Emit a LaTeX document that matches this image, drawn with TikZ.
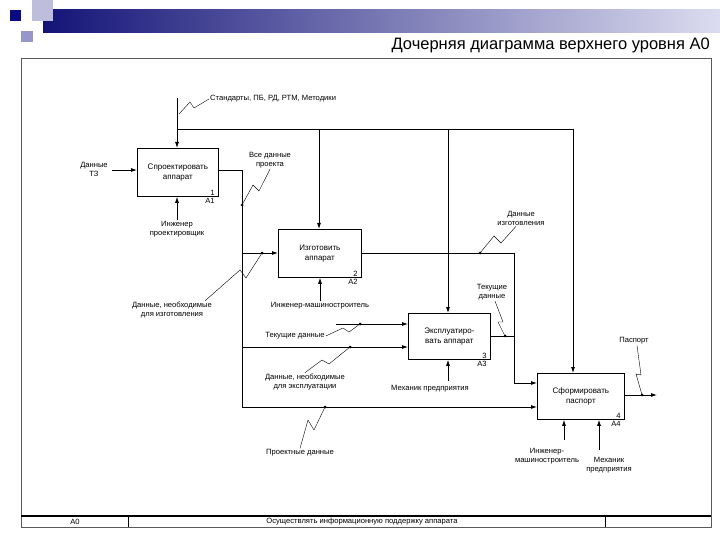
\documentclass[tikz,border=0pt]{standalone}
\usepackage{fontspec}
\setmainfont{Liberation Sans}
\usetikzlibrary{calc,arrows.meta}
\definecolor{hdark}{RGB}{20,20,120}
\definecolor{hlight}{RGB}{220,220,240}
\definecolor{sqa}{RGB}{190,190,220}
\definecolor{sqb}{RGB}{150,150,200}
\definecolor{sqc}{RGB}{10,10,130}
\begin{document}
\begin{tikzpicture}[x=1pt,y=-1pt,
  box/.style={draw,thick,anchor=north west,inner sep=0pt,align=center,font=\fontsize{8}{9.5}\selectfont},
  lbl/.style={font=\fontsize{7.6}{9}\selectfont,align=center,inner sep=1pt},
  ar/.style={-{Latex[length=6pt,width=4pt]},thick},
  ln/.style={thick},
  sq/.style={thin},
  dot/.style={circle,fill,inner sep=0pt,minimum size=3pt}]
\useasboundingbox (0,0) rectangle (720,540);
% header decoration
\shade[left color=hdark,right color=hlight] (43,10) rectangle (720,33);
\fill[sqa] (32,0) rectangle (53,21);
\fill[sqb] (21,31) rectangle (33,42);
\fill[sqc] (10,10) rectangle (21,21);
\node[anchor=east,font=\fontsize{16.5}{18}\selectfont,inner sep=0pt] (title) at (710,45) {Дочерняя диаграмма верхнего уровня А0};
% frame
\draw[gray!70!black] (21,58) rectangle (711,527);
\draw[very thick] (21,516) -- (711,516);
\draw (128,516) -- (128,527) (605,516) -- (605,527);
\node[lbl] (fa) at (75,521.5) {А0};
\node[lbl] (ft) at (362,521.5) {Осуществлять информационную поддержку аппарата};
% boxes
\node[box,minimum width=81pt,minimum height=48pt] (A1) at (137,148) {Спроектировать\\аппарат};
\node[box,minimum width=83pt,minimum height=48pt] (A2) at (278,229) {Изготовить\\аппарат};
\node[box,minimum width=82pt,minimum height=46pt] (A3) at (408,313) {Эксплуатиро-\\вать аппарат};
\node[box,minimum width=87pt,minimum height=46pt] (A4) at (537,373) {Сформировать\\паспорт};
\foreach \b/\n in {A1/1,A2/2,A3/3,A4/4}{
  \node[lbl,anchor=south east] at ($(\b.south east)+(-3,0)$) {\n};
  \node[lbl,anchor=north east] at ($(\b.south east)+(-3,0)$) {\b};
}
% controls
\coordinate (ct) at (177,98);
\coordinate (cb) at (177,129);
\draw[ar] (ct) -- (A1.north -| ct);
\draw[ln] (cb) -- (573,129);
\draw[ar] (319,129) -- (A2.north -| 319,0);
\draw[ar] (448,129) -- (A3.north -| 448,0);
\draw[ar] (573,129) -- (A4.north -| 573,0);
\node[lbl,anchor=west] (std) at (209,99) {Стандарты, ПБ, РД, РТМ, Методики};
\coordinate (s1) at (179,114);
\draw[sq] (s1) -- (190,102) -- (194,108) -- (std.west);
% input TZ
\node[lbl] (tz) at (94,169) {Данные\\ТЗ};
\draw[ar] (tz.east) ++(3,1) coordinate (tze) -- (A1.west |- tze);
% A1 output
\coordinate (o1) at (242,170);
\draw[ln] (A1.east |- o1) -- (o1) -- (242,407);
\draw[ar] (242,253) -- (A2.west |- 0,253);
\draw[ar] (242,347) -- (A3.west |- 0,347);
\draw[ar] (242,407) -- (A4.west |- 0,407);
\draw[ar] (336,324) -- (A3.west |- 0,324);
% mechanisms
\node[lbl] (m1) at (177,229) {Инженер\\проектировщик};
\draw[ar] (m1.north) -- (A1.south -| m1);
\node[lbl] (m2) at (320,306) {Инженер-машиностроитель};
\draw[ar] (m2.north) -- (A2.south -| m2);
\node[lbl] (m3) at (430,389) {Механик предприятия};
\draw[ar] (448,381) -- (A3.south -| 448,0);
\node[lbl] (m4a) at (547,456) {Инженер-\\машиностроитель};
\draw[ar] (564,440) -- (A4.south -| 564,0);
\node[lbl] (m4b) at (609,465) {Механик\\предприятия};
\draw[ar] (599,450) -- (A4.south -| 599,0);
% A2 output and A3 output
\draw[ln] (A2.east |- 0,253) -- (514,253) -- (514,383);
\draw[ar] (514,383) -- (A4.west |- 0,383);
\draw[ln] (A3.east |- 0,336) -- (514,336);
% A4 output
\coordinate (pe) at (657,395);
\draw[ar] (A4.east |- pe) -- (pe);
% squiggle labels
\node[lbl] (l1) at (270,160) {Все данные\\проекта};
\draw[sq] (l1.south) -- (259,191) -- (253,185) -- (242,205); \node[dot] at (242,205) {};
\node[lbl] (l2) at (172,310) {Данные, необходимые\\для изготовления};
\draw[sq] (l2.north east) ++(-8,0) -- (240,270) -- (246,278) -- (262,253); \node[dot] at (262,253) {};
\node[lbl] (l3) at (305,382) {Данные, необходимые\\для эксплуатации};
\draw[sq] (l3.north) -- (322,360) -- (329,364) -- (350,347); \node[dot] at (350,347) {};
\node[lbl] (l4) at (300,453) {Проектные данные};
\draw[sq] (l4.north) -- (308,420) -- (314,430) -- (325,407); \node[dot] at (325,407) {};
\node[lbl] (l5) at (295,336) {Текущие данные};
\draw[sq] (l5.east) -- (343,328) -- (349,332) -- (360,324); \node[dot] at (360,324) {};
\node[lbl] (l6) at (521,218) {Данные\\изготовления};
\draw[sq] (l6.south) ++(-5,0) -- (501,243) -- (494,236) -- (480,253); \node[dot] at (480,253) {};
\node[lbl] (l7) at (492,292) {Текущие\\данные};
\draw[sq] (l7.south) ++(3,0) -- (503,322) -- (498,322) -- (505,336); \node[dot] at (505,336) {};
\node[lbl] (l8) at (634,341) {Паспорт};
\draw[sq] (l8.south) ++(3,0) -- (641,375) -- (636,374) -- (642,395); \node[dot] at (642,395) {};
\end{tikzpicture}
\end{document}
